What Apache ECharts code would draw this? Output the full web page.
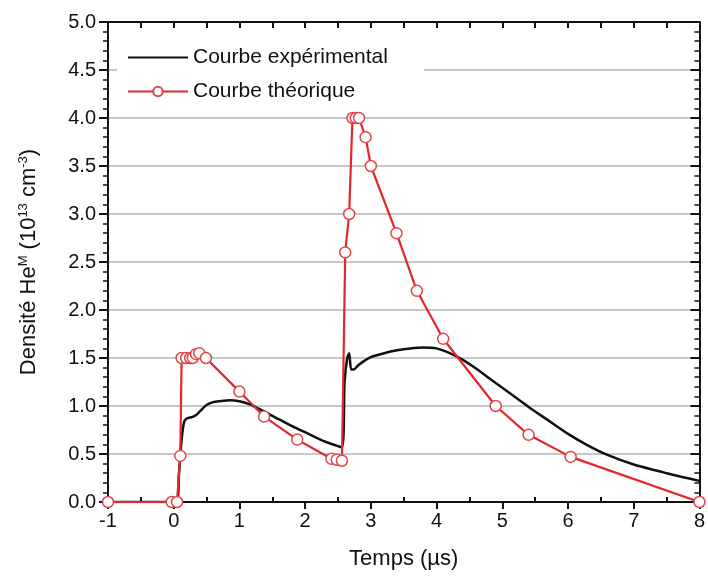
<!DOCTYPE html>
<html>
<head>
<meta charset="utf-8">
<title>Densité He M</title>
<script src="https://cdn.jsdelivr.net/npm/echarts@6/dist/echarts.min.js"></script>
<style>
  html, body { margin: 0; padding: 0; background: #fff; }
  #chart { width: 708px; height: 576px; }
</style>
</head>
<body>
<div id="chart"></div>
<script>
// experimental curve (black)
var expX = [-1, 0.04, 0.08, 0.12, 0.16, 0.2, 0.25, 0.3, 0.35, 0.42, 0.5, 0.6, 0.7, 0.85, 1.0, 1.15, 1.3, 1.55, 1.8, 2.05, 2.3, 2.56, 2.6, 2.64, 2.67, 2.7, 2.74, 2.8, 2.9, 3.0, 3.2, 3.4, 3.6, 3.8, 4.0, 4.2, 4.4, 4.6, 4.8, 5.0, 5.2, 5.4, 5.7, 6.0, 6.3, 6.6, 7.0, 7.5, 8.0];
var expY = [0, 0, 0.3, 0.65, 0.84, 0.87, 0.88, 0.89, 0.91, 0.96, 1.01, 1.04, 1.05, 1.06, 1.05, 1.02, 0.97, 0.88, 0.79, 0.71, 0.63, 0.57, 1.25, 1.5, 1.55, 1.38, 1.38, 1.42, 1.47, 1.51, 1.55, 1.58, 1.6, 1.61, 1.6, 1.55, 1.48, 1.39, 1.29, 1.19, 1.09, 0.99, 0.85, 0.71, 0.59, 0.49, 0.39, 0.3, 0.22];

// theoretical curve (red, open circles)
var theoX = [-1, -0.03, 0.05, 0.1, 0.12, 0.19, 0.25, 0.29, 0.34, 0.39, 0.49, 1.0, 1.375, 1.88, 2.4, 2.48, 2.56, 2.61, 2.67, 2.72, 2.77, 2.82, 2.92, 3.0, 3.39, 3.7, 4.1, 4.9, 5.4, 6.04, 8.0];
var theoY = [0, 0, 0, 0.48, 1.5, 1.5, 1.5, 1.5, 1.54, 1.55, 1.5, 1.15, 0.89, 0.65, 0.45, 0.44, 0.43, 2.6, 3.0, 4.0, 4.0, 4.0, 3.8, 3.5, 2.8, 2.2, 1.7, 1.0, 0.7, 0.47, 0];

var seriesNames = ['Courbe expérimental', 'Courbe théorique'];
var halfTicks = [-0.5, 0.5, 1.5, 2.5, 3.5, 4.5, 5.5, 6.5, 7.5];

function pairs(xs, ys) {
	var out = [];
	for (var i = 0; i < xs.length; i++) out.push([xs[i], ys[i]]);
	return out;
}

var font = 'Liberation Sans, Arial, sans-serif';
var axisBlack = { onZero: false, lineStyle: { color: '#111', width: 2 } };

var option = {
	animation: false,
	backgroundColor: '#fff',
	textStyle: { fontFamily: font },
	grid: {
		left: 108,
		right: 8,
		top: 22,
		bottom: 74
	},
	legend: {
		orient: 'vertical',
		left: 117,
		top: 41,
		padding: [6, 36, 6, 10],
		backgroundColor: '#fff',
		itemWidth: 60,
		itemHeight: 12,
		itemGap: 13,
		textStyle: { fontSize: 21, color: '#111', fontFamily: font },
		data: [
			{ name: seriesNames[0], itemStyle: { opacity: 0 } },
			{ name: seriesNames[1] }
		]
	},
	xAxis: [{
		type: 'value',
		min: -1,
		max: 8,
		interval: 1,
		position: 'bottom',
		axisLine: axisBlack,
		axisTick: { inside: false, length: 7, lineStyle: { color: '#111', width: 2 } },
		axisLabel: { fontSize: 20, color: '#111', margin: 9 },
		splitLine: { show: false },
		name: 'Temps (µs)',
		nameLocation: 'middle',
		nameGap: 46,
		nameTextStyle: { fontSize: 22, color: '#111' }
	}, {
		type: 'value',
		min: -1,
		max: 8,
		interval: 0.5,
		position: 'bottom',
		axisLine: { show: false, onZero: false },
		axisTick: { inside: true, length: 5, customValues: halfTicks, lineStyle: { color: '#111', width: 2 } },
		axisLabel: { show: false },
		splitLine: { show: false }
	}, {
		type: 'value',
		min: -1,
		max: 8,
		interval: 0.5,
		position: 'top',
		axisLine: axisBlack,
		axisTick: { inside: true, length: 6, lineStyle: { color: '#111', width: 2 } },
		axisLabel: { show: false },
		splitLine: { show: false }
	}],
	yAxis: [{
		type: 'value',
		min: 0,
		max: 5,
		interval: 0.5,
		position: 'left',
		axisLine: axisBlack,
		axisTick: { inside: false, length: 9, lineStyle: { color: '#111', width: 2 } },
		minorTick: { show: true, splitNumber: 5, length: 5, lineStyle: { color: '#111', width: 1.5 } },
		axisLabel: {
			fontSize: 20,
			color: '#111',
			margin: 12,
			formatter: function (v) { return v.toFixed(1); }
		},
		splitLine: { show: true, lineStyle: { color: '#b4b4b4', width: 1.5 } },
		name: 'Densité He{sup|M} (10{sup|13} cm{sup|-3})',
		nameLocation: 'middle',
		nameRotate: 90,
		nameGap: 68,
		nameTextStyle: {
			fontSize: 22,
			color: '#111',
			rich: {
				sup: { fontSize: 13, color: '#111', verticalAlign: 'top', padding: [0, 0, 10, 0] }
			}
		}
	}, {
		type: 'value',
		min: 0,
		max: 5,
		interval: 0.5,
		position: 'right',
		axisLine: axisBlack,
		axisTick: { inside: true, length: 9, lineStyle: { color: '#111', width: 2 } },
		minorTick: { show: true, splitNumber: 5, length: 5, lineStyle: { color: '#111', width: 1.5 } },
		axisLabel: { show: false },
		splitLine: { show: false }
	}],
	series: [{
		name: seriesNames[0],
		type: 'line',
		xAxisIndex: 0,
		yAxisIndex: 0,
		symbol: 'none',
		smooth: 0.25,
		lineStyle: { color: '#111', width: 2.5 },
		itemStyle: { color: '#111' },
		data: pairs(expX, expY),
		z: 3
	}, {
		name: seriesNames[1],
		type: 'line',
		xAxisIndex: 0,
		yAxisIndex: 0,
		symbol: 'circle',
		symbolSize: 11,
		showAllSymbol: true,
		lineStyle: { color: '#e3262b', width: 2.2 },
		itemStyle: { color: '#fff', borderColor: '#e0474b', borderWidth: 1.5 },
		data: pairs(theoX, theoY),
		z: 4
	}]
};

var chart = echarts.init(document.getElementById('chart'));
chart.setOption(option);
</script>
</body>
</html>
